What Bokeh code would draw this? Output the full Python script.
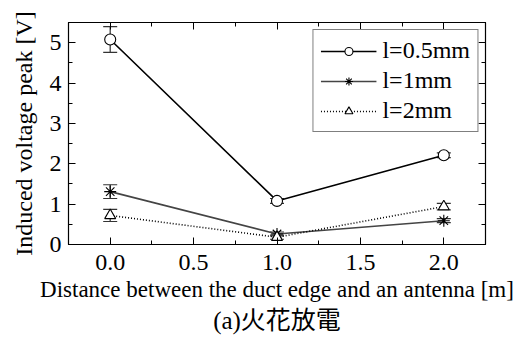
from bokeh.plotting import figure
from bokeh.models import (ColumnDataSource, Whisker, TeeHead, LinearAxis, SingleIntervalTicker,
                          NumeralTickFormatter, Legend, LegendItem, Title, Range1d, CustomJSTickFormatter)
from bokeh.embed import file_html
from bokeh.resources import INLINE

# ---- data ----
distance = [0.0, 1.0, 2.0]
v_05 = [5.08, 1.08, 2.21]
err_05 = [0.32, 0.06, 0.06]
v_1 = [1.31, 0.26, 0.59]
err_1 = [0.17, 0.05, 0.05]
v_2 = [0.72, 0.18, 0.94]
err_2 = [0.15, 0.05, 0.08]
labels = ["l=0.5mm", "l=1mm", "l=2mm"]
x_label = "Distance between the duct edge and an antenna [m]"
y_label = "Induced voltage peak [V]"
caption = "(a)火花放電"

SERIF = "'Liberation Serif', 'Times New Roman', serif"

p = figure(width=530, height=350, output_backend="svg", toolbar_location=None,
           x_range=Range1d(-0.25, 2.25), y_range=Range1d(0, 5.5),
           min_border_left=68, min_border_right=45, min_border_top=22, min_border_bottom=106)
p.grid.visible = False
p.outline_line_color = "black"
p.outline_line_width = 1.2
p.background_fill_color = "white"
p.border_fill_color = "white"

xt = SingleIntervalTicker(interval=0.5, num_minor_ticks=2)
yt = SingleIntervalTicker(interval=1, num_minor_ticks=2)

def style_axis(ax, ticker, show_labels):
    ax.ticker = ticker
    ax.axis_line_color = "black"
    ax.major_tick_in = 7
    ax.major_tick_out = 0
    ax.minor_tick_in = 4
    ax.minor_tick_out = 0
    ax.major_tick_line_color = "black"
    ax.minor_tick_line_color = "black"
    ax.major_label_text_font = SERIF
    ax.major_label_text_color = "black"
    ax.axis_label_text_font = SERIF
    ax.axis_label_text_font_style = "normal"
    ax.axis_label_text_color = "black"
    if not show_labels:
        ax.formatter = CustomJSTickFormatter(code="return ''")
        ax.major_label_standoff = 0

xa = p.xaxis[0]
style_axis(xa, xt, True)
xa.formatter = NumeralTickFormatter(format="0.0")
xa.major_label_text_font_size = "24px"
xa.major_label_standoff = 10
xa.axis_label = x_label
xa.axis_label_text_font_size = "23px"
xa.axis_label_standoff = 4

ya = p.yaxis[0]
style_axis(ya, yt, True)
ya.major_label_text_font_size = "24px"
ya.major_label_standoff = 7
ya.axis_label = y_label
ya.axis_label_text_font_size = "24px"
ya.axis_label_standoff = 10

top = LinearAxis()
style_axis(top, xt, False)
p.add_layout(top, "above")
right = LinearAxis()
style_axis(right, yt, False)
p.add_layout(right, "right")

cap = Title(text=caption, align="center", text_font="'Liberation Serif', 'Noto Sans CJK JP'",
            text_font_size="25px", text_font_style="normal", text_color="black", standoff=0)
p.add_layout(cap, "below")

series = [
    (v_05, err_05, "black", "solid", "circle", labels[0]),
    (v_1, err_1, "#444444", "solid", "asterisk", labels[1]),
    (v_2, err_2, "black", "1 2", "triangle", labels[2]),
]

items = []
for vals, errs, col, dash, marker, lab in series:
    src = ColumnDataSource(dict(x=distance, y=vals,
                                upper=[v + e for v, e in zip(vals, errs)],
                                lower=[v - e for v, e in zip(vals, errs)]))
    w = Whisker(source=src, base="x", upper="upper", lower="lower",
                line_color="#333333", line_width=1.2,
                upper_head=TeeHead(size=14, line_color="#333333", line_width=1.2),
                lower_head=TeeHead(size=14, line_color="#333333", line_width=1.2))
    p.add_layout(w)
    ln = p.line("x", "y", source=src, line_color=col, line_width=1.6, line_dash=dash)
    sc = p.scatter("x", "y", source=src, marker=marker, size=11 if marker != "asterisk" else 12,
                   fill_color="white", line_color="black", line_width=1.1)
    items.append(LegendItem(label=lab, renderers=[ln, sc]))

leg = Legend(items=items, location="top_right")
leg.border_line_color = "black"
leg.border_line_width = 1.2
leg.background_fill_color = "white"
leg.background_fill_alpha = 1
leg.label_text_font = SERIF
leg.label_text_font_size = "24px"
leg.label_text_color = "black"
leg.glyph_width = 56
leg.glyph_height = 20
leg.label_height = 20
leg.spacing = 3
leg.padding = 7
leg.margin = 7
leg.label_standoff = 6
p.add_layout(leg)

open("out.html", "w").write(file_html(p, INLINE))
